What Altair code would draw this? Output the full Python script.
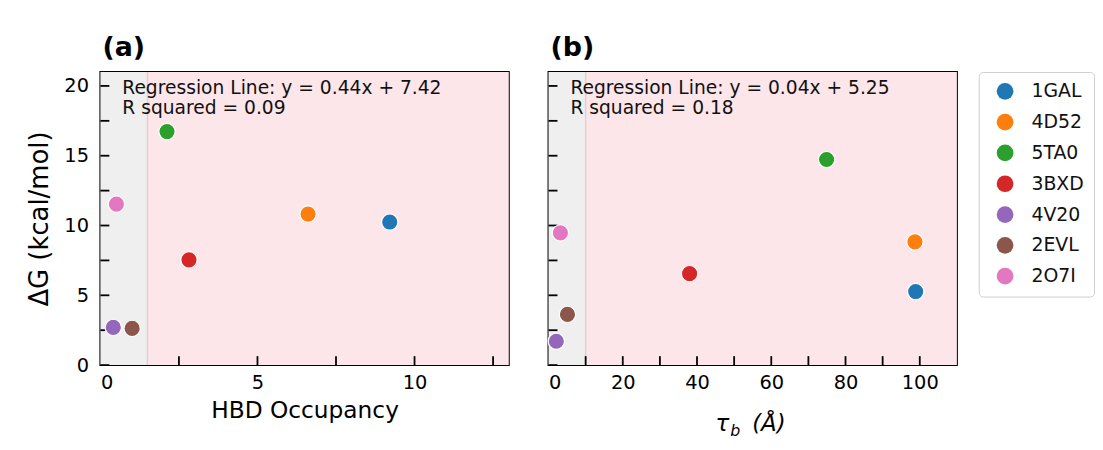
import altair as alt
import pandas as pd

# ---------------- data ----------------
pdb_ids = ["1GAL", "4D52", "5TA0", "3BXD", "4V20", "2EVL", "2O7I"]
tab_colors = ["#1f77b4", "#ff7f0e", "#2ca02c", "#d62728", "#9467bd", "#8c564b", "#e377c2"]

hbd_occupancy = [9.21, 6.61, 2.12, 2.82, 0.41, 1.01, 0.51]
dg_panel_a = [10.25, 10.82, 16.73, 7.54, 2.70, 2.63, 11.53]

tau_b = [98.9, 98.7, 74.9, 38.0, 2.1, 5.1, 3.2]
dg_panel_b = [5.27, 8.83, 14.73, 6.55, 1.71, 3.63, 9.47]

a_xdomain = [0, 13]
b_xdomain = [0, 110]
y_domain = [0, 21]

a_xlabels = [0, 5, 10]
a_xticks = [2.5, 5, 7.5, 10, 12.5]
b_xlabels = [0, 20, 40, 60, 80, 100]
b_xticks = [10, 20, 30, 40, 50, 60, 70, 80, 90, 100]
y_labels = [0, 5, 10, 15, 20]
y_ticks = [0, 2.5, 5, 7.5, 10, 12.5, 15, 17.5, 20]

a_split = 1.5
b_split = 10

a_eq = ["Regression Line: y = 0.44x + 7.42", "R squared = 0.09"]
b_eq = ["Regression Line: y = 0.04x + 5.25", "R squared = 0.18"]

W, H = 411, 295
FONT = "DejaVu Sans"
TICK = 9


def panel(xs, ys, xdomain, xlabels, xticks, split, eq, title, xtitle, show_y):
    pts = pd.DataFrame({"x": xs, "y": ys, "pdb": pdb_ids})
    xscale = alt.Scale(domain=xdomain, nice=False, zero=False)
    yscale = alt.Scale(domain=y_domain, nice=False, zero=False)
    xaxis = alt.Axis(values=xlabels, ticks=False, domain=False, grid=False,
                     labelFontSize=19.5, labelFont=FONT, labelColor="#000",
                     labelPadding=9, title=xtitle if xtitle else None,
                     titleFontSize=23.4, titleFont=FONT, titleFontWeight="normal",
                     titleColor="#000", titlePadding=7, format="d")
    if show_y:
        yaxis = alt.Axis(values=y_labels, ticks=False, domain=False, grid=False,
                         labelFontSize=19.5, labelFont=FONT, labelColor="#000",
                         labelPadding=12, title="ΔG (kcal/mol)", titleFontSize=26,
                         titleLimit=400, titleFont=FONT, titleFontWeight="normal",
                         titleColor="#000", titlePadding=11, format="d")
    else:
        yaxis = None

    def X(field="x"):
        return alt.X(f"{field}:Q", scale=xscale, axis=xaxis)

    def Y(field="y"):
        return alt.Y(f"{field}:Q", scale=yscale, axis=yaxis)

    shade = pd.DataFrame({"x": [xdomain[0], split], "x2": [split, xdomain[1]],
                          "kind": ["low", "high"]})
    bg = alt.Chart(shade).mark_rect().encode(
        x=X(), x2="x2:Q", y=alt.value(0), y2=alt.value(H),
        fill=alt.Fill("kind:N", scale=alt.Scale(domain=["low", "high"],
                                                range=["#efefef", "#fde6e9"]), legend=None),
    )
    edge = alt.Chart(pd.DataFrame({"x": [split]})).mark_rule(
        color="#e6cdd1", strokeWidth=1.5).encode(x=X(), y=alt.value(0), y2=alt.value(H))

    xt = alt.Chart(pd.DataFrame({"x": xticks})).mark_rule(
        color="#000", strokeWidth=1.8).encode(x=X(), y=alt.value(H), y2=alt.value(H - TICK))
    yt = alt.Chart(pd.DataFrame({"y": y_ticks})).mark_rule(
        color="#000", strokeWidth=1.8).encode(y=Y(), x=alt.value(0), x2=alt.value(TICK))

    points = alt.Chart(pts).mark_circle(size=270, opacity=1, stroke="white",
                                        strokeWidth=1.2).encode(
        x=X(), y=Y(),
        color=alt.Color("pdb:N", scale=alt.Scale(domain=pdb_ids, range=tab_colors),
                        legend=alt.Legend(title=None)),
    )
    txt = alt.Chart(pd.DataFrame({"t": [0]})).mark_text(
        text=eq, align="left", baseline="alphabetic", fontSize=18.8, font=FONT,
        lineHeight=20, color="#111").encode(x=alt.value(22), y=alt.value(22))

    layers = [bg, edge, xt, yt, points, txt]
    base = pd.DataFrame({"t": [0]})
    if not xtitle:
        tau = alt.Chart(base).mark_text(text="τ", align="left", baseline="alphabetic",
                                        fontSize=23, font=FONT, fontStyle="italic",
                                        color="#000").encode(x=alt.value(168), y=alt.value(H + 66))
        sub = alt.Chart(base).mark_text(text="b", align="left", baseline="alphabetic",
                                        fontSize=16, font=FONT, fontStyle="italic",
                                        color="#000").encode(x=alt.value(183), y=alt.value(H + 71))
        ang = alt.Chart(base).mark_text(text="(Å)", align="left", baseline="alphabetic",
                                        fontSize=23, font=FONT, fontStyle="italic",
                                        color="#000").encode(x=alt.value(205), y=alt.value(H + 66))
        layers += [tau, sub, ang]

    return alt.layer(*layers).properties(
        width=W, height=H,
        title=alt.TitleParams(title, anchor="start", frame="group", fontSize=27,
                              font=FONT, fontWeight="bold", color="#000", offset=9, dx=2),
    ).resolve_scale(fill="independent")


pa = panel(hbd_occupancy, dg_panel_a, a_xdomain, a_xlabels, a_xticks, a_split, a_eq,
           "(a)", "HBD Occupancy", True)
pb = panel(tau_b, dg_panel_b, b_xdomain, b_xlabels, b_xticks, b_split, b_eq,
           "(b)", None, False)

chart = alt.hconcat(pa, pb, spacing=35).resolve_scale(color="shared").configure_view(
    stroke="#000", strokeWidth=2
).configure_legend(
    orient="right", offset=21, labelFontSize=19, labelFont=FONT, labelColor="#111",
    symbolSize=283, symbolType="circle", symbolStrokeWidth=0, symbolOpacity=1,
    strokeColor="#cfcfcf", fillColor="white", cornerRadius=4, padding=10,
    rowPadding=11, symbolOffset=7, labelOffset=17,
).properties(
    padding={"left": 18, "top": 24, "right": 0, "bottom": 0},
    background="white",
)

chart.save("out.html", embed_options={"renderer": "svg", "actions": False})
